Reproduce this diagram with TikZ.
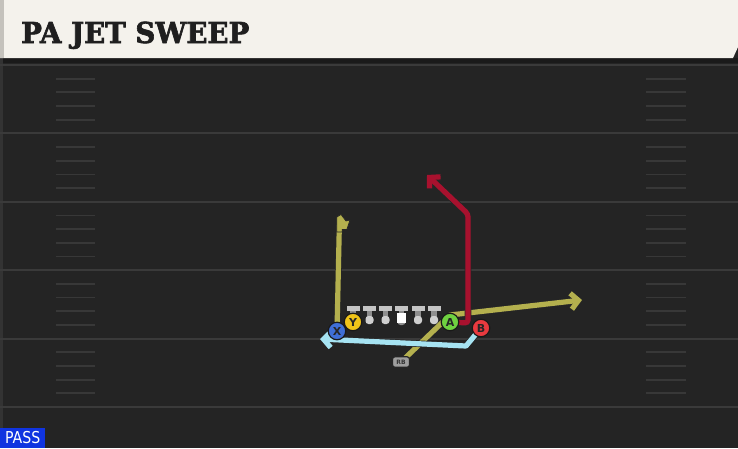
\documentclass[tikz,border=0pt]{standalone}
\usepackage{fontspec}
\usetikzlibrary{arrows.meta}
\newfontfamily\titlefont{DejaVu Serif}[FakeBold=2.2]
\newfontfamily\lblfont{DejaVu Sans}
\definecolor{hdr}{HTML}{F4F2EC}
\definecolor{hdredge}{HTML}{C4C2BC}
\definecolor{field}{HTML}{242424}
\definecolor{fieldband}{HTML}{1A1A1A}
\definecolor{yardline}{HTML}{3A3A3A}
\definecolor{hashc}{HTML}{383838}
\definecolor{yel}{HTML}{B4B04E}
\definecolor{rred}{HTML}{A8112E}
\definecolor{lblue}{HTML}{A6E3F2}
\definecolor{pblue}{HTML}{3F6FD6}
\definecolor{pyel}{HTML}{F0C419}
\definecolor{pgreen}{HTML}{6FD140}
\definecolor{pred}{HTML}{E83A3F}
\definecolor{passblue}{HTML}{1034E0}
\definecolor{tbar}{HTML}{C4C4C4}
\definecolor{tstem}{HTML}{8E8E8E}
\definecolor{tblob}{HTML}{CFCFCF}
\tikzset{
  player/.style={circle, draw=black!90, line width=1.2pt, minimum size=17.5pt, inner sep=0pt,
    font=\lblfont\bfseries\fontsize{11}{11}\selectfont, text=black!85},
  route/.style={line width=5.2pt, preaction={draw=black!85, line width=6.6pt}},
  barb/.style={-{Straight Barb[length=7.5pt,width=16pt]}},
  yline/.style={yardline, line width=2pt},
  hash/.style={hashc, line width=1.8pt},
  lineman/.pic={
    \fill[tbar] (-6.5,0) rectangle (6.5,4.5);
    \fill[tstem] (-2.6,4.5) rectangle (2.6,12);
    \fill[tblob, rounded corners=3pt] (-4,10) rectangle (4,18);
  },
  centerman/.pic={
    \fill[tbar] (-6.5,0) rectangle (6.5,4.5);
    \fill[tstem] (-2.6,4.5) rectangle (2.6,8);
    \fill[tstem, rounded corners=3pt] (-4,12) rectangle (4,19);
    \fill[white] (-4.2,7) rectangle (4.2,16.5);
  }
}
\begin{document}
\begin{tikzpicture}[x=1pt,y=-1pt]
\useasboundingbox (0,0) rectangle (738,448);
% background
\fill[field] (0,0) rectangle (738,448);
\fill[fieldband] (0,58) rectangle (738,63);
\fill[black!80] (0,58) rectangle (2.5,448);
\fill[hdr] (0,0) -- (738,0) -- (738,47) -- (733,58) -- (0,58) -- cycle;
\fill[hdredge] (0,0) rectangle (4,58);
% yard lines and hash marks
\foreach \k in {0,...,5} {
  \draw[yline] (0,65+68.4*\k) -- (738,65+68.4*\k);
}
\foreach \k in {0,...,4} {
  \foreach \j in {1,...,4} {
    \draw[hash] (56,65+68.4*\k+13.68*\j) -- (95,65+68.4*\k+13.68*\j);
    \draw[hash] (646,65+68.4*\k+13.68*\j) -- (686,65+68.4*\k+13.68*\j);
  }
}
% title
\node[anchor=base west, inner sep=0pt, text=black!88] (title) at (21,43)
  {\scalebox{0.96}[1]{\titlefont\bfseries\fontsize{28.8}{30}\selectfont PA JET SWEEP}};
% players (positions)
\coordinate (Xp) at (337,331);
\coordinate (Yp) at (353,322);
\coordinate (Ap) at (450,322);
\coordinate (Bp) at (481,328);
\coordinate (RBp) at (401,362);
% route waypoints
\coordinate (xtop) at (339.5,218);
\coordinate (ajoin) at (450,315);
\coordinate (yend) at (582,300);
\coordinate (rcorner) at (468,323);
\coordinate (rbend) at (468,214);
\coordinate (rtip) at (427,175);
\coordinate (bturn) at (466,346);
\coordinate (btip) at (320,339);
% routes
\draw[route, yel] (Xp) -- (xtop);
\fill[yel, draw=black!85, line width=0.7pt] (336.8,217) -- (341,214.5) -- (346,221) -- (350,220) -- (346.8,229.5) -- (342.2,229.5) -- (342.2,232) -- (336.8,232) -- cycle;
\draw[route, yel, barb, line join=round] (RBp) -- (ajoin) -- (yend);
\draw[route, rred, barb, rounded corners=3pt] (Ap) -- (rcorner) -- (rbend) -- (rtip);
\draw[route, lblue, barb, line join=round] (Bp) -- (bturn) -- (btip);
% offensive line
\pic at (353,306) {lineman};
\pic at (369.5,306) {lineman};
\pic at (385.5,306) {lineman};
\pic at (401.5,306) {centerman};
\pic at (418,306) {lineman};
\pic at (434,306) {lineman};
% player nodes
\node[player, fill=pblue] (X) at (Xp) {X};
\node[player, fill=pyel] (Y) at (Yp) {Y};
\node[player, fill=pgreen] (A) at (Ap) {A};
\node[player, fill=pred] (B) at (Bp) {B};
\node[draw=black!85, fill=black!38, line width=1.2pt, rounded corners=2.5pt, minimum width=17pt,
  minimum height=10.5pt, inner sep=0pt, text=black!80, font=\lblfont\bfseries\fontsize{6}{6}\selectfont] (RB) at (RBp) {RB};
% play type label
\node[fill=passblue, anchor=south west, minimum width=45pt, minimum height=20pt, inner sep=0pt, text=white] (pass) at (0,448)
  {\scalebox{0.86}[1]{\lblfont\fontsize{16.4}{16.4}\selectfont PASS}};
\end{tikzpicture}
\end{document}
